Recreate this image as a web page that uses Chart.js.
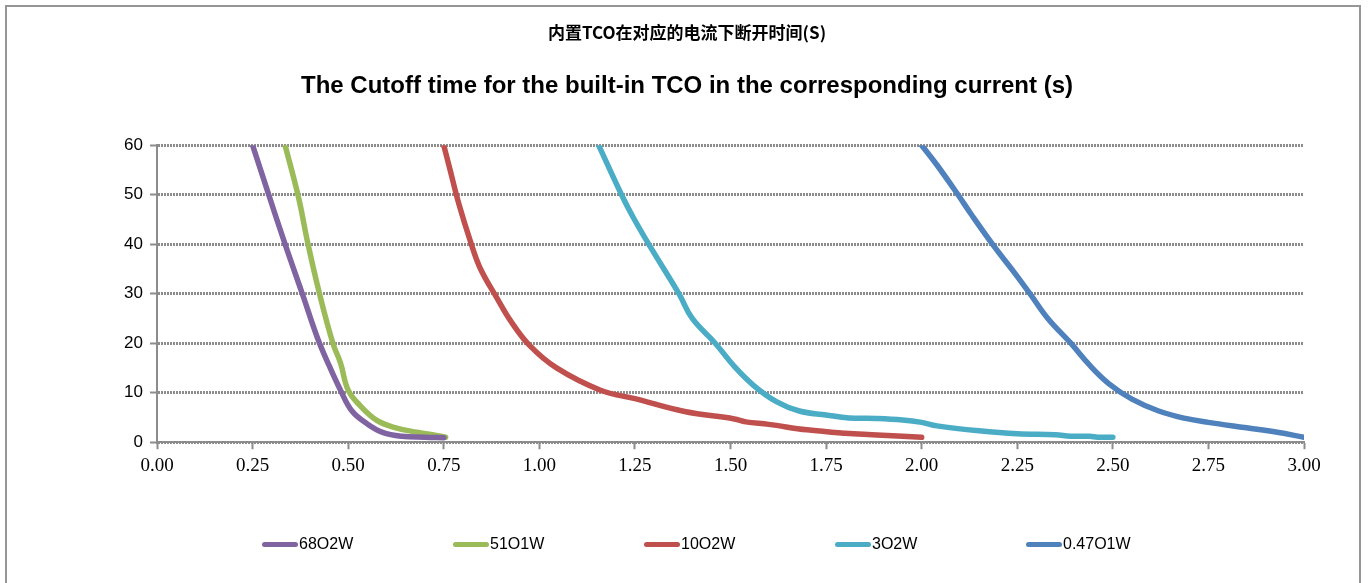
<!DOCTYPE html>
<html>
<head>
<meta charset="utf-8">
<script src="https://cdn.jsdelivr.net/npm/chart.js@4/dist/chart.umd.min.js"></script>
<style>
body { margin: 0; background: #fff; }
#frame { position: absolute; left: 5px; top: 5px; width: 1356px; height: 600px; border: 2px solid #969696; border-bottom: none; box-sizing: border-box; }
#wrap { position: absolute; left: 0; top: 0; width: 1368px; height: 583px; }
#legend { position: absolute; left: 262px; top: 534px; height: 20px; display: flex; }
#legend .item { width: 191px; display: flex; align-items: center; font-family: "Liberation Sans", sans-serif; font-size: 16px; color: #000; }
#legend .sw { width: 36px; height: 5px; border-radius: 3px; margin-right: 1px; }
</style>
</head>
<body>
<div id="frame"></div>
<div id="wrap"><canvas id="c" width="1368" height="583"></canvas></div>
<div id="legend"></div>
<script>
var seriesNames = ['68O2W', '51O1W', '10O2W', '3O2W', '0.47O1W'];
var seriesColors = ['#8064a2', '#9bbb59', '#c0504d', '#4bacc6', '#4f81bd'];

var x68 = [0.25, 0.29, 0.335, 0.38, 0.42, 0.45, 0.48, 0.51, 0.55, 0.59, 0.64, 0.70, 0.75];
var y68 = [60, 50.5, 40, 30, 21, 15.5, 10.5, 6.3, 3.7, 2.0, 1.2, 1.0, 0.9];

var x51 = [0.335, 0.37, 0.395, 0.425, 0.46, 0.48, 0.50, 0.53, 0.575, 0.62, 0.68, 0.72, 0.755];
var y51 = [60, 49.5, 40, 30, 20, 16, 10.5, 7.5, 4.4, 3.0, 2.0, 1.5, 1.0];

var x10 = [0.75, 0.765, 0.79, 0.82, 0.845, 0.89, 0.925, 0.975, 1.045, 1.16, 1.25, 1.38, 1.51, 1.54, 1.60, 1.70, 1.80, 1.87, 1.95, 2.00];
var y10 = [60, 55.5, 48, 40.5, 35.2, 29, 24.5, 19.5, 15, 10.5, 8.8, 6.2, 4.7, 4.1, 3.6, 2.5, 1.8, 1.5, 1.2, 1.0];

var x3 = [1.155, 1.215, 1.245, 1.29, 1.365, 1.40, 1.46, 1.51, 1.56, 1.62, 1.68, 1.75, 1.81, 1.88, 1.95, 2.00, 2.04, 2.15, 2.25, 2.35, 2.39, 2.44, 2.46, 2.50];
var y3 = [60, 50, 45.5, 39.5, 30, 25, 20, 15.3, 11.5, 8.2, 6.3, 5.5, 4.9, 4.8, 4.5, 4.0, 3.3, 2.3, 1.7, 1.5, 1.2, 1.2, 1.0, 1.0];

var x047 = [2.00, 2.04, 2.095, 2.13, 2.19, 2.24, 2.285, 2.33, 2.39, 2.44, 2.49, 2.55, 2.62, 2.69, 2.75, 2.85, 2.93, 3.00];
var y047 = [60, 56, 50, 46, 39.5, 34.5, 29.8, 25, 20, 15.5, 11.8, 8.7, 6.3, 4.8, 4.0, 2.9, 2.0, 1.0];

var xs = [x68, x51, x10, x3, x047];
var ys = [y68, y51, y10, y3, y047];

function pts(xa, ya) {
  return xa.map(function (v, i) { return { x: v, y: ya[i] }; });
}

var datasets = seriesNames.map(function (name, i) {
  return {
    label: name,
    data: pts(xs[i], ys[i]),
    borderColor: seriesColors[i],
    backgroundColor: seriesColors[i],
    borderWidth: 5.5,
    pointRadius: 0,
    showLine: true,
    fill: false,
    tension: 0.4,
    borderCapStyle: 'round',
    borderJoinStyle: 'round'
  };
});

// legend in html, one slot per series
var lg = document.getElementById('legend');
seriesNames.forEach(function (name, i) {
  var it = document.createElement('div');
  it.className = 'item';
  it.innerHTML = '<span class="sw" style="background:' + seriesColors[i] + '"></span>' + name;
  lg.appendChild(it);
});

var gridGrey = '#8c8c8c';

new Chart(document.getElementById('c'), {
  type: 'scatter',
  data: { datasets: datasets },
  options: {
    responsive: false,
    animation: false,
    layout: { padding: { top: 22, left: 70, right: 64, bottom: 101 } },
    plugins: {
      legend: { display: false },
      tooltip: { enabled: false },
      title: {
        display: true,
        text: '内置TCO在对应的电流下断开时间(S)',
        color: '#000',
        font: { family: '"Noto Sans CJK SC", sans-serif', size: 17, weight: 'bold', lineHeight: 1.2 },
        padding: { top: 0, bottom: 30 }
      },
      subtitle: {
        display: true,
        text: 'The Cutoff time for the built-in TCO in the corresponding current (s)',
        color: '#000',
        font: { family: '"Liberation Sans", Arial, sans-serif', size: 24, weight: 'bold', lineHeight: 1.2 },
        padding: { top: 0, bottom: 44 }
      }
    },
    scales: {
      x: {
        type: 'linear',
        min: 0,
        max: 3,
        ticks: {
          stepSize: 0.25,
          color: '#000',
          padding: 5,
          font: { family: '"Liberation Serif", serif', size: 19 },
          callback: function (v) { return v.toFixed(2); }
        },
        grid: { drawOnChartArea: false, drawTicks: true, tickLength: 7, tickColor: gridGrey, tickWidth: 2 },
        border: { color: gridGrey, width: 2 }
      },
      y: {
        min: 0,
        max: 60,
        afterFit: function (scale) { scale.width = 87; },
        ticks: {
          stepSize: 10,
          color: '#000',
          padding: 7,
          font: { family: '"Liberation Sans", Arial, sans-serif', size: 17 }
        },
        grid: { color: gridGrey, lineWidth: 3, tickLength: 7, tickColor: gridGrey, tickWidth: 2 },
        border: { color: gridGrey, width: 2, dash: [2, 1] }
      }
    }
  }
});
</script>
</body>
</html>
